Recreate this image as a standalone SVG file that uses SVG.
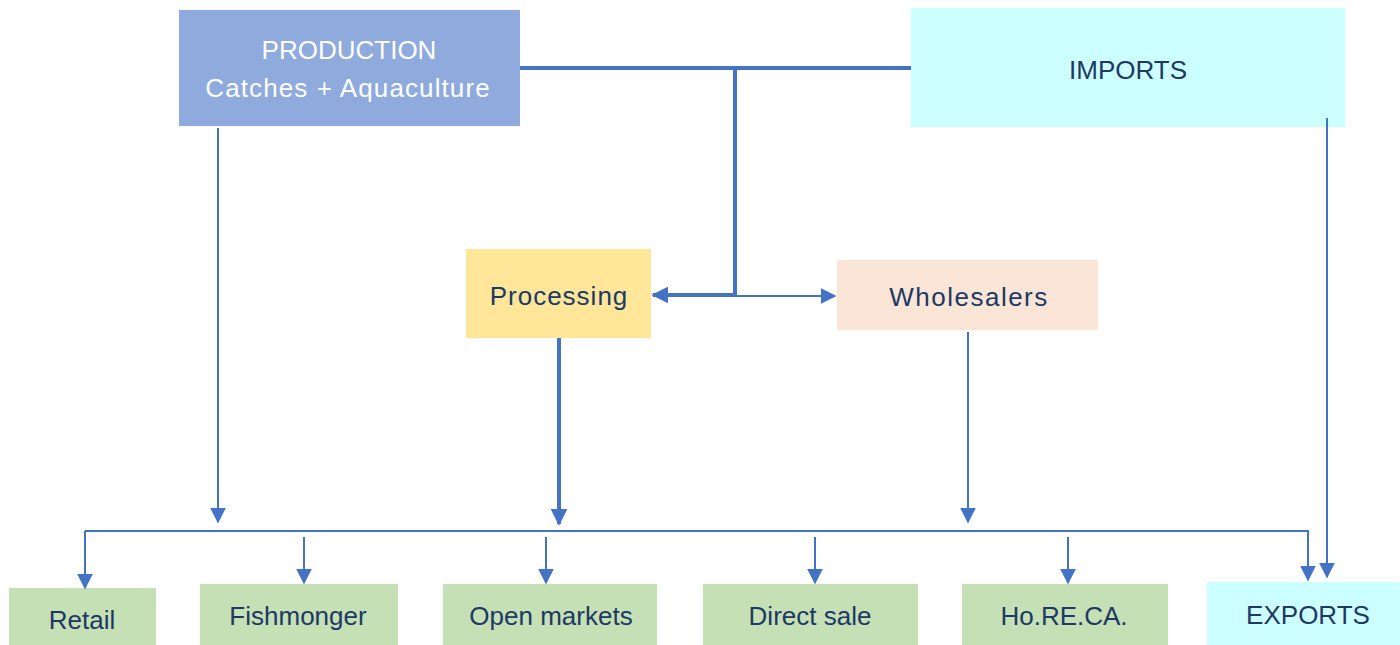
<svg xmlns="http://www.w3.org/2000/svg" width="1400" height="645" viewBox="0 0 1400 645">
<style>
.t{font-family:"Liberation Sans",Arial,sans-serif;font-size:26px;fill:#203864;text-anchor:middle;dominant-baseline:central}
.w{fill:#ffffff}
.c{fill:none;stroke:#4472c4;stroke-width:2}
.k{fill:none;stroke:#4472c4;stroke-width:4}
</style>
<defs>
<marker id="b" viewBox="0 0 10 10" refX="9" refY="5" markerWidth="17" markerHeight="17" markerUnits="userSpaceOnUse" orient="auto"><path d="M0,0 L10,5 L0,10 z" fill="#4472c4"/></marker>
<marker id="m" viewBox="0 0 10 10" refX="9" refY="5" markerWidth="16" markerHeight="16" markerUnits="userSpaceOnUse" orient="auto"><path d="M0,0 L10,5 L0,10 z" fill="#4472c4"/></marker>
</defs>
<g id="production"><rect x="179" y="10" width="341" height="116" fill="#8faadc"/><text class="t w" x="349" y="50" font-size="27">PRODUCTION</text><text class="t w" x="348" y="88" font-size="28.5" letter-spacing="1.1">Catches + Aquaculture</text></g>
<g id="imports"><rect x="911" y="8" width="434" height="119" fill="#ccffff"/><text class="t" x="1128" y="70" font-size="26">IMPORTS</text></g>
<g id="processing"><rect x="466" y="249" width="185" height="89" fill="#ffe699"/><text class="t" x="559" y="296" font-size="28" letter-spacing="1">Processing</text></g>
<g id="wholesalers"><rect x="837" y="260" width="261" height="70" fill="#fbe5d6"/><text class="t" x="969" y="297" font-size="28.5" letter-spacing="1.5">Wholesalers</text></g>
<g id="retail"><rect x="9" y="588" width="147" height="57" fill="#c5e0b4"/><text class="t" x="82" y="620" font-size="27">Retail</text></g>
<g id="fishmonger"><rect x="200" y="584" width="198" height="61" fill="#c5e0b4"/><text class="t" x="298" y="616" font-size="26">Fishmonger</text></g>
<g id="openmarkets"><rect x="443" y="584" width="214" height="61" fill="#c5e0b4"/><text class="t" x="551" y="616" font-size="27">Open markets</text></g>
<g id="directsale"><rect x="703" y="584" width="215" height="61" fill="#c5e0b4"/><text class="t" x="810" y="616" font-size="26.5">Direct sale</text></g>
<g id="horeca"><rect x="962" y="584" width="206" height="61" fill="#c5e0b4"/><text class="t" x="1064" y="616" font-size="25">Ho.RE.CA.</text></g>
<g id="exports"><rect x="1207" y="582" width="193" height="63" fill="#ccffff"/><text class="t" x="1308" y="615" font-size="25">EXPORTS</text></g>
<g id="connectors">
<path class="k" d="M520,68 H911"/>
<path class="k" d="M735,68 V295 H653" marker-end="url(#b)"/>
<path class="c" d="M735,296 H835" marker-end="url(#m)"/>
<path class="c" d="M218,128 V522" marker-end="url(#m)"/>
<path class="k" d="M559,338 V524" marker-end="url(#b)"/>
<path class="c" d="M968,332 V522" marker-end="url(#m)"/>
<path class="c" d="M1327,118 V577" marker-end="url(#m)"/>
<path class="c" d="M85,531 H1308 V580" marker-end="url(#m)"/>
<path class="c" d="M85,531 V588" marker-end="url(#m)"/>
<path class="c" d="M304,537 V583" marker-end="url(#m)"/>
<path class="c" d="M546,537 V583" marker-end="url(#m)"/>
<path class="c" d="M815,537 V583" marker-end="url(#m)"/>
<path class="c" d="M1068,537 V583" marker-end="url(#m)"/>
</g>
</svg>
